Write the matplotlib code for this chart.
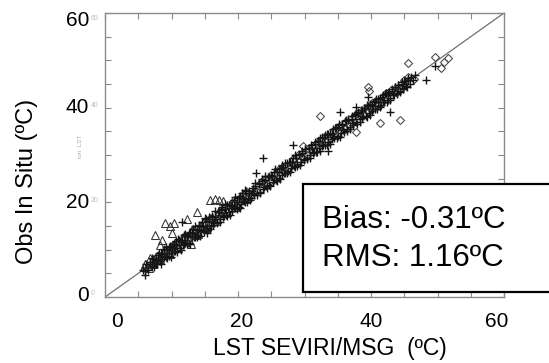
import matplotlib
matplotlib.use('Agg')
import matplotlib.pyplot as plt
from matplotlib.patches import Rectangle

plt.rcParams['font.family'] = ['Liberation Sans', 'DejaVu Sans']

# '+' points (x = LST SEVIRI/MSG, y = in situ)
plus_x = [6.0, 6.2, 6.5, 6.7, 7.0, 7.2, 7.4, 7.7, 7.9, 8.2, 8.4, 8.6, 8.9, 9.1, 9.3, 9.6,
          9.8, 10.0, 10.3, 10.5, 10.7, 11.0, 11.2, 11.4, 11.7, 11.9, 12.1, 12.4, 12.6, 12.8,
          13.1, 13.3, 13.5, 13.8, 14.0, 14.2, 14.5, 14.7, 14.9, 15.2, 15.4, 15.6, 15.9, 16.1,
          16.3, 16.6, 16.8, 17.0, 17.3, 17.5, 17.7, 18.0, 18.2, 18.4, 18.7, 18.9, 19.1, 19.4,
          19.6, 19.8, 20.1, 20.3, 20.5, 20.8, 21.0, 21.2, 21.5, 21.7, 21.9, 22.2, 22.4, 22.6,
          22.9, 23.1, 23.3, 23.6, 23.8, 24.0, 24.3, 24.5, 24.7, 25.0, 25.2, 25.4, 25.7, 25.9,
          26.1, 26.4, 26.6, 26.8, 27.1, 27.3, 27.5, 27.8, 28.0, 28.2, 28.5, 28.7, 28.9, 29.2,
          29.4, 29.6, 29.9, 30.1, 30.3, 30.6, 30.8, 31.0, 31.3, 31.5, 31.7, 32.0, 32.2, 32.4,
          32.7, 32.9, 33.1, 33.4, 33.6, 33.8, 34.1, 34.3, 34.5, 34.8, 35.0, 35.2, 35.5, 35.7,
          35.9, 36.2, 36.4, 36.6, 36.9, 37.1, 37.3, 37.6, 37.8, 38.0, 38.3, 38.5, 38.7, 39.0,
          39.2, 39.4, 39.7, 39.9, 40.1, 40.4, 40.6, 40.8, 41.1, 41.3, 41.5, 41.8, 42.0, 42.2,
          42.5, 42.7, 42.9, 43.2, 43.4, 43.6, 43.9, 44.1, 44.3, 44.6, 44.8, 45.0, 45.3, 45.5,
          45.8, 46.0, 46.3, 46.6,
          5.7, 48.3, 49.6, 42.9, 39.6, 35.3, 28.3, 33.5, 11.6, 23.8, 22.7, 37.7, 15.3, 6.0]
plus_y = [4.6, 6.9, 5.8, 7.4, 6.6, 8.1, 7.0, 6.9, 8.9, 7.6, 9.3, 8.0, 10.1, 8.5, 9.9, 8.7,
          10.8, 9.4, 11.2, 9.8, 10.9, 12.3, 10.3, 11.8, 10.9, 13.0, 11.5, 12.9, 11.4, 13.8,
          12.6, 14.4, 12.7, 14.1, 13.2, 15.3, 13.9, 15.0, 13.8, 16.4, 14.6, 16.0, 15.1, 17.2,
          15.3, 16.9, 15.9, 17.9, 16.5, 18.4, 16.8, 18.6, 17.3, 19.4, 17.9, 19.2, 18.1, 20.5,
          18.8, 20.1, 19.0, 21.3, 19.6, 21.0, 20.1, 22.3, 20.7, 22.0, 20.9, 23.1, 21.6, 23.4,
          22.0, 23.8, 22.2, 24.6, 22.9, 24.7, 23.5, 25.4, 23.7, 25.8, 24.3, 26.4, 24.8, 26.5,
          25.2, 27.3, 25.8, 27.5, 26.1, 28.4, 26.6, 28.6, 27.2, 29.3, 27.5, 29.4, 28.0, 30.3,
          28.6, 30.5, 29.0, 31.2, 29.3, 31.4, 29.9, 32.1, 30.5, 32.3, 30.7, 33.0, 31.4, 33.6,
          31.8, 33.7, 32.1, 34.5, 32.7, 34.6, 33.3, 35.4, 33.6, 35.6, 34.1, 36.5, 34.7, 36.4,
          34.9, 37.3, 35.5, 37.5, 36.0, 38.2, 36.3, 38.4, 36.9, 39.0, 37.5, 39.5, 37.8, 39.9,
          38.3, 40.6, 38.9, 40.7, 39.2, 41.3, 39.7, 41.8, 40.3, 42.0, 40.6, 42.7, 41.2, 43.1,
          41.7, 43.3, 42.0, 44.0, 42.7, 44.3, 43.1, 44.8, 43.5, 45.4, 44.0, 45.7, 44.6, 46.2,
          45.1, 46.5, 45.8, 47.0,
          5.7, 45.8, 48.7, 39.1, 42.2, 39.1, 32.2, 30.8, 15.9, 29.4, 26.3, 40.2, 13.5, 5.4]

# second batch of '+' points, the wider part of the cloud
plus2_x = [7.1, 7.35, 7.6, 7.85, 8.1, 8.35, 8.6, 8.85, 9.1, 9.35, 9.6, 9.85, 10.1, 10.35,
           10.6, 10.85, 11.1, 11.35, 11.6, 11.85, 12.1, 12.35, 12.6, 12.85, 13.1, 13.35,
           13.6, 13.85, 14.1, 14.35, 14.6, 14.85, 15.1, 15.35, 15.6, 15.85, 16.1, 16.35,
           16.6, 16.85, 17.1, 17.35, 17.6, 17.85, 18.1, 18.35, 18.6, 18.85, 19.1, 19.35,
           19.6, 19.85, 20.1, 20.35, 20.6, 20.85, 21.1, 21.35, 21.6, 21.85, 22.1, 22.35,
           22.6, 22.85, 23.1, 23.35, 23.6, 23.85, 24.1, 24.35, 24.6, 24.85, 25.1, 25.35,
           25.6, 25.85, 26.1, 26.35, 26.6, 26.85, 27.1, 27.35, 27.6, 27.85, 28.1, 28.35,
           28.6, 28.85, 29.1, 29.35, 29.6, 29.85, 30.1, 30.35, 30.6, 30.85, 31.1, 31.35,
           31.6, 31.85, 32.1, 32.35, 32.6, 32.85, 33.1, 33.35, 33.6, 33.85, 34.1, 34.35,
           34.6, 34.85, 35.1, 35.35, 35.6, 35.85, 36.1, 36.35, 36.6, 36.85, 37.1, 37.35,
           37.6, 37.85, 38.1, 38.35, 38.6, 38.85, 39.1, 39.35, 39.6, 39.85, 40.1, 40.35,
           40.6, 40.85, 41.1, 41.35, 41.6, 41.85, 42.1, 42.35, 42.6, 42.85, 43.1, 43.35,
           43.6, 43.85, 44.1, 44.35, 44.6, 44.85, 45.1, 45.35, 45.6]
plus2_y = [8.3, 6.3, 7.9, 7.0, 9.2, 6.9, 9.3, 8.5, 10.6, 8.2, 10.5, 8.4, 10.5, 9.7,
           11.9, 9.6, 12.0, 9.9, 12.0, 11.2, 13.4, 11.1, 13.5, 11.3, 13.5, 12.7,
           15.1, 12.6, 14.9, 12.8, 15.9, 14.2, 16.6, 14.1, 16.9, 14.4, 16.5, 15.7,
           18.1, 15.6, 18.0, 15.8, 19.0, 17.2, 19.6, 17.1, 19.5, 17.4, 19.5, 18.7,
           21.1, 18.6, 21.0, 18.9, 21.9, 20.2, 22.6, 20.1, 22.5, 20.4, 22.5, 21.7,
           24.0, 21.6, 24.0, 21.9, 24.9, 23.2, 25.5, 23.1, 25.5, 23.4, 25.5, 24.7,
           27.0, 24.6, 27.0, 24.9, 27.8, 26.2, 28.4, 26.1, 28.5, 26.4, 28.5, 27.7,
           29.9, 27.6, 30.0, 27.9, 30.8, 29.2, 31.3, 29.1, 31.5, 29.4, 31.5, 30.7,
           32.8, 30.6, 33.0, 30.9, 33.7, 32.2, 34.2, 32.1, 34.4, 32.4, 34.5, 33.7,
           35.7, 33.6, 36.0, 33.9, 36.6, 35.2, 37.1, 35.1, 37.4, 35.4, 37.5, 36.7,
           38.6, 36.6, 38.9, 37.0, 39.5, 38.2, 39.9, 38.1, 40.3, 38.5, 40.5, 39.7,
           41.5, 39.7, 41.9, 40.1, 42.3, 41.2, 42.8, 41.1, 43.2, 41.6, 43.5, 42.6,
           44.3, 42.8, 44.8, 43.3, 45.1, 44.2, 45.6, 44.4, 45.9]

# triangles (low temperature site)
tri_x = [5.8, 6.3, 6.9, 7.2, 7.5, 8.0, 8.7, 9.4, 10.1, 10.8, 11.6, 12.2, 13.0, 13.6, 14.4,
         15.0, 15.8, 16.5, 17.2, 18.0, 18.8, 19.5, 20.3, 21.0,
         6.0, 6.6, 7.8, 8.3, 9.0, 9.7, 10.4, 11.0, 11.9, 12.6, 13.3, 14.0, 14.7, 15.4,
         16.1, 16.9, 17.6, 18.4, 19.1, 19.9,
         15.8, 16.5, 17.2, 17.7, 9.0, 10.3, 9.8, 7.5, 8.5, 10.0, 13.8, 13.0, 6.8, 12.4, 8.2]
tri_y = [6.3, 6.6, 7.5, 6.9, 8.3, 7.8, 9.6, 9.2, 11.0, 10.5, 12.4, 12.0, 13.9, 13.0, 15.2,
         14.6, 16.7, 16.0, 18.1, 17.7, 19.6, 19.1, 20.9, 20.6,
         7.0, 6.2, 8.6, 8.0, 9.9, 9.0, 11.3, 10.3, 12.8, 12.1, 14.3, 13.4, 15.7, 14.8,
         17.0, 16.4, 18.5, 17.9, 20.0, 19.4,
         20.5, 20.6, 20.4, 20.3, 15.6, 15.7, 15.1, 13.1, 12.0, 13.5, 18.0, 11.3, 8.2, 16.4, 10.9]

# diamonds (high temperature site)
dia_x = [19.2, 20.6, 22.0, 23.4, 24.8, 25.5, 26.2, 27.6, 29.0, 30.4, 31.8, 32.5, 33.2, 34.6,
         36.0, 37.4, 38.8, 39.5, 40.2, 41.6, 43.0, 44.4, 45.6, 46.4,
         21.3, 22.7, 24.1, 26.9, 28.3, 29.7, 31.1, 33.9, 35.3, 36.7, 38.1, 40.9, 42.3, 43.7, 45.0,
         49.6, 51.0, 51.6, 50.5, 45.5, 39.6, 39.7, 32.3, 41.3, 44.3, 37.7, 29.8]
dia_y = [19.6, 21.4, 21.8, 24.2, 24.5, 26.0, 27.0, 27.3, 29.9, 30.0, 32.6, 33.0, 32.8, 35.3,
         35.6, 38.2, 38.4, 39.3, 40.9, 41.3, 43.8, 44.0, 46.4, 46.0,
         22.1, 22.4, 25.0, 26.6, 29.2, 29.3, 31.9, 33.5, 36.1, 36.3, 38.9, 40.5, 43.1, 43.3, 45.8,
         50.7, 49.7, 50.4, 48.4, 49.5, 44.4, 43.6, 38.3, 36.7, 37.4, 34.9, 32.0]

x_ticks = [0, 20, 40, 60]
x_tick_pos = [1.8, 20.6, 40.0, 58.9]
y_ticks = [0, 20, 40, 60]
y_tick_pos = [0.4, 20.0, 40.0, 58.4]
bias_txt = 'Bias: -0.31ºC'
rms_txt = 'RMS: 1.16ºC'

fig = plt.figure(figsize=(5.49, 3.63), dpi=100)
ax = fig.add_axes([0.1913, 0.1818, 0.7268, 0.7824])

grey = '#8a8a8a'
ax.plot([0, 60], [0, 60], color='#707070', lw=0.9, zorder=1)
ax.plot(plus_x, plus_y, '+', color='#151515', ms=6, mew=1.0, zorder=3)
ax.plot(plus2_x, plus2_y, '+', color='#151515', ms=6, mew=1.0, zorder=3)
ax.plot(tri_x, tri_y, '^', mfc='none', mec='#333333', ms=5.3, mew=0.75, zorder=2)
ax.plot(dia_x, dia_y, 'D', mfc='none', mec='#444444', ms=4.4, mew=0.75, zorder=2)

ax.set_xlim(0, 60)
ax.set_ylim(0, 60)
ax.set_xticks(range(0, 61, 5))
ax.set_yticks(range(0, 61, 5))
ax.set_xticklabels([])
ax.set_yticklabels([])
ax.tick_params(direction='in', length=4, width=0.8, color=grey,
               top=True, right=True)
for s in ax.spines.values():
    s.set_color(grey)
    s.set_linewidth(1.0)

# tick labels placed by hand (slightly off the tick marks, as in the original)
for v, p in zip(x_ticks, x_tick_pos):
    ax.text(p, -0.085, str(v), transform=ax.get_xaxis_transform(),
            ha='center', va='center', fontsize=15)
for v, p in zip(y_ticks, y_tick_pos):
    ax.text(-0.04, p, str(v), transform=ax.get_yaxis_transform(),
            ha='right', va='center', fontsize=15)
    ax.text(-0.035, p + 0.4, str(v), transform=ax.get_yaxis_transform(),
            ha='left', va='center', fontsize=5, color='#bbbbbb')
ax.text(-0.062, 0.53, 'ion  LST', transform=ax.transAxes, rotation=90,
        ha='center', va='center', fontsize=4.5, color='#aaaaaa')

fig.text(0.6, 0.041, 'LST SEVIRI/MSG  (ºC)', ha='center', va='center', fontsize=16.5)
fig.text(0.05, 0.50, 'Obs In Situ (ºC)', ha='center', va='center',
         rotation=90, fontsize=17)

box = Rectangle((303 / 549, 1 - 292 / 363), 0.6, 108 / 363,
                transform=fig.transFigure, facecolor='white',
                edgecolor='black', lw=1.6, zorder=5)
fig.add_artist(box)
fig.text(0.586, 1 - 220 / 363, bias_txt, ha='left', va='center', fontsize=22.5, zorder=6)
fig.text(0.586, 1 - 258 / 363, rms_txt, ha='left', va='center', fontsize=22.5, zorder=6)

fig.savefig('out.png', dpi=100)
